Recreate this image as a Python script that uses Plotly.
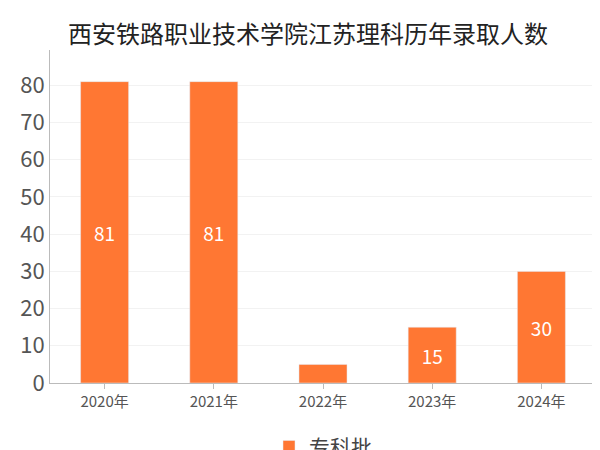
import plotly.graph_objects as go

years = ['2020年', '2021年', '2022年', '2023年', '2024年']
counts = [81, 81, 5, 15, 30]
labels = ['81', '81', '', '15', '30']
series_name = '专科批'

fig = go.Figure()
fig.add_trace(go.Bar(
    x=years, y=counts, name=series_name,
    marker={'color': '#FF7733'},
    text=labels, textposition='inside', insidetextanchor='middle',
    textfont={'color': 'white', 'size': 19},
    width=0.44, showlegend=True
))

fig.update_layout(
    width=600, height=450,
    title={'text': '西安铁路职业技术学院江苏理科历年录取人数', 'x': 0.5, 'y': 0.96,
           'xanchor': 'center', 'font': {'size': 24, 'color': '#222'}},
    font={'family': 'Noto Sans CJK SC, sans-serif'},
    plot_bgcolor='white', paper_bgcolor='white',
    margin={'l': 42, 'r': 12, 't': 42, 'b': 75, 'autoexpand': False},
    xaxis={'showline': True, 'linecolor': '#bbb', 'ticks': 'outside', 'ticklen': 5,
           'tickcolor': '#bbb', 'tickfont': {'size': 15, 'color': '#555'}},
    yaxis={'range': [0, 89.5], 'dtick': 10, 'showline': True, 'linecolor': '#bbb',
           'gridcolor': '#f2f2f2', 'tickfont': {'size': 22, 'color': '#555'}, 'zeroline': False},
    legend={'orientation': 'h', 'x': 0.5, 'xanchor': 'center', 'y': -0.13, 'yanchor': 'top',
            'font': {'size': 21, 'color': '#444'}},
)

fig.write_html('out.html')
